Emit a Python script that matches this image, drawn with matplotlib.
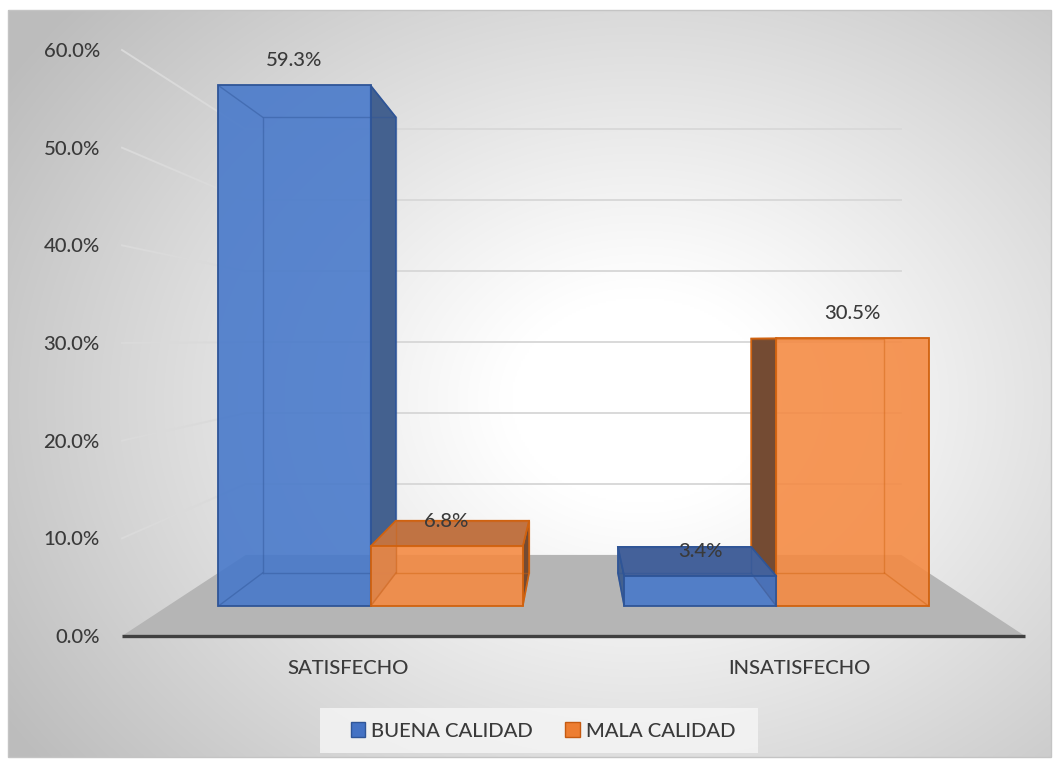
import numpy as np
import matplotlib
matplotlib.use("Agg")
import matplotlib.pyplot as plt
from matplotlib.patches import Polygon, Patch, Rectangle
from matplotlib.ticker import FuncFormatter

# ---------------- data ----------------
categories = ["SATISFECHO", "INSATISFECHO"]
series_names = ["BUENA CALIDAD", "MALA CALIDAD"]
buena = [59.3, 3.4]
mala = [6.8, 30.5]
yticks = [0, 10, 20, 30, 40, 50, 60]

# ---------------- styling ----------------
FONT = ["Lato", "DejaVu Sans"]
plt.rcParams["font.family"] = FONT
plt.rcParams["font.weight"] = 500
TXT = "#3a3a3a"
FS = 14.6

W, H = 1057, 762
fig = plt.figure(figsize=(W / 100, H / 100), dpi=100)
fig.patch.set_facecolor("white")

# background (chart area gradient)
bg = fig.add_axes([0, 0, 1, 1], zorder=-10)
bg.set_xlim(0, W)
bg.set_ylim(H, 0)
bg.axis("off")
x0, x1, y0, y1 = 8, 1051, 10, 757
xx, yy = np.meshgrid(np.arange(x0, x1, 2), np.arange(y0, y1, 2))
r = np.hypot((xx - 640) / 1.0, (yy - 400) / 0.8)
t = np.clip((r - 130) / 620, 0, 1)
g = 1 - 0.26 * t ** 1.05
bg.imshow(np.dstack([g, g, g]), extent=(x0, x1, y1, y0), interpolation="bilinear", aspect="auto")
bg.add_patch(Rectangle((x0, y0), x1 - x0, y1 - y0, fill=False, ec="#c4c4c4", lw=1))
# legend box
bg.add_patch(Rectangle((320, 708), 438, 45, fc="#f6f6f6", ec="none", alpha=0.8))

# main axes: data coords = front plane (category units, percent)
ax = fig.add_axes([122 / W, (H - 636) / H, 903 / W, 586 / H])
ax.set_xlim(0, 2)
ax.set_ylim(0, 60)
ax.patch.set_alpha(0)
for sp in ax.spines.values():
    sp.set_visible(False)

XC, VH = 1.0, 30.3
S_FRONT, S_BF, S_BB, S_WALL = 1.0, 0.899, 0.787, 0.726


def proj(x, v, s):
    x = np.asarray(x, dtype=float)
    v = np.asarray(v, dtype=float)
    return XC + (x - XC) * s, VH + (v - VH) * s


def poly(xs, vs, ss, **kw):
    px, py = proj(xs, vs, ss)
    p = Polygon(np.column_stack([px, py]), closed=True, clip_on=False, **kw)
    ax.add_patch(p)
    return p


# floor
poly([0, 2, 2, 0], [0, 0, 0, 0], np.array([S_FRONT, S_FRONT, S_WALL, S_WALL]),
     fc="#b5b5b5", ec="none", zorder=1)

# gridlines: back wall + left wall
for v in yticks[1:]:
    bx, by = proj([0, 2], [v, v], S_WALL)
    ax.plot(bx, by, color="#d9d9d9", lw=1.4, zorder=0.5, clip_on=False)
    lx, ly = proj([0, 0], [v, v], np.array([S_FRONT, S_WALL]))
    ax.plot(lx, ly, color="#dadada", lw=1.4, zorder=0.5, clip_on=False)

# front axis line
ax.plot([0, 2], [0, 0], color="#404040", lw=2.4, zorder=2, clip_on=False, solid_capstyle="butt")

# bars
BW = 0.375
styles = {
    0: dict(face="#4577ca", side="#44618f", top="#44619a", edge="#2f5597"),
    1: dict(face="#f58940", side="#744b33", top="#c07343", edge="#d0620f"),
}
bars = []
for i in range(len(categories)):
    bars.append((i + 0.5 - BW, i + 0.5, buena[i], 0))
    bars.append((i + 0.5, i + 0.5 + BW, mala[i], 1))
# paint bars farther from the centre first
bars.sort(key=lambda b: -abs((b[0] + b[1]) / 2 - XC))

z = 3
for xl, xr, v, k in bars:
    st = styles[k]
    sF, sB = S_BF, S_BB
    # side face facing the vanishing point
    xs = xr if xr <= XC else xl
    poly([xs, xs, xs, xs], [0, 0, v, v], np.array([sF, sB, sB, sF]),
         fc=st["side"], ec=st["edge"], lw=1.2, zorder=z)
    # top face if below eye level
    if v < VH:
        poly([xl, xr, xr, xl], [v, v, v, v], np.array([sF, sF, sB, sB]),
             fc=st["top"], ec=st["edge"], lw=1.2, zorder=z + 0.1)
    # front face
    poly([xl, xr, xr, xl], [0, 0, v, v], np.array([sF] * 4),
         fc=st["face"], ec="none", alpha=0.88, zorder=z + 0.2)
    # hidden edges seen through
    bx, by = proj([xl, xr, xr, xl, xl], [0, 0, v, v, 0], sB)
    ax.plot(bx, by, color=st["edge"], lw=1.0, alpha=0.45, zorder=z + 0.3, clip_on=False)
    for cx_, cv_ in [(xl, 0), (xr, 0), (xl, v), (xr, v)]:
        ex, ey = proj([cx_, cx_], [cv_, cv_], np.array([sF, sB]))
        ax.plot(ex, ey, color=st["edge"], lw=1.0, alpha=0.45, zorder=z + 0.3, clip_on=False)
    # front outline
    poly([xl, xr, xr, xl], [0, 0, v, v], np.array([sF] * 4),
         fc="none", ec=st["edge"], lw=1.3, zorder=z + 0.4)
    # data label
    lx, ly = proj((xl + xr) / 2, v, sF)
    ax.annotate(f"{v:.1f}%", (float(lx), float(ly)), xytext=(0, 18), textcoords="offset points",
                ha="center", va="center", fontsize=FS, color=TXT, zorder=20, annotation_clip=False)
    z += 1

# axes ticks
ax.set_yticks(yticks)
ax.yaxis.set_major_formatter(FuncFormatter(lambda y, _: f"{y:.1f}%"))
ax.set_xticks([i + 0.5 for i in range(len(categories))])
ax.set_xticklabels(categories)
ax.tick_params(axis="y", length=0, pad=16, labelsize=FS, labelcolor=TXT)
ax.tick_params(axis="x", length=0, pad=17, labelsize=FS, labelcolor=TXT)

# legend
handles = [Patch(facecolor="#4472c4", edgecolor="#2f5597", label=series_names[0]),
           Patch(facecolor="#ed7d31", edgecolor="#c55a11", label=series_names[1])]
leg = fig.legend(handles=handles, loc="center", bbox_to_anchor=(543 / W, 1 - 731 / H),
                 ncol=2, frameon=False, fontsize=FS, handlelength=0.7, handleheight=0.7,
                 handletextpad=0.3, columnspacing=1.6, labelcolor=TXT)

fig.savefig("out.png", dpi=100)
